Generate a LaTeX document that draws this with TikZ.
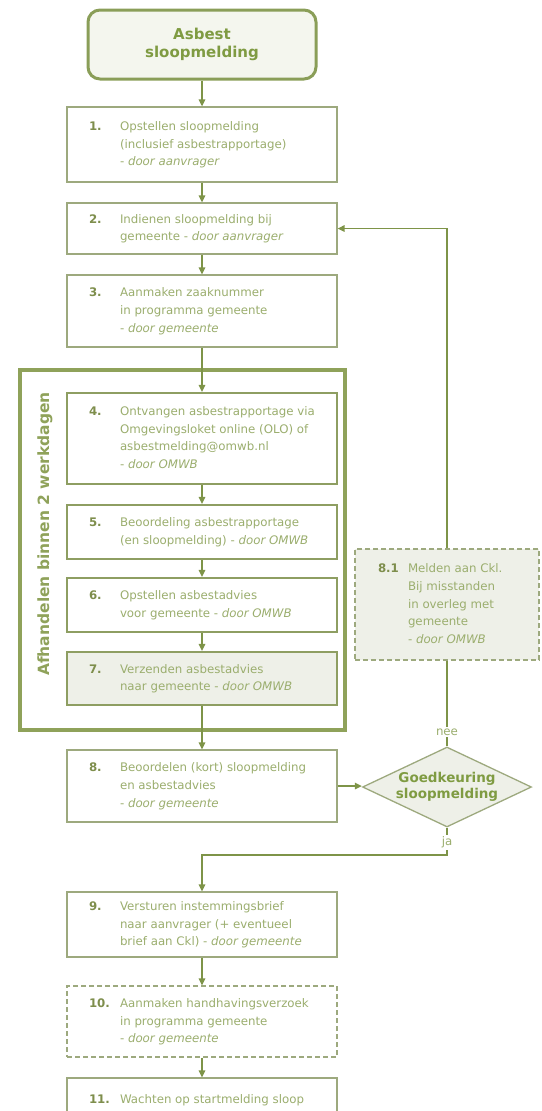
\documentclass[tikz,border=0pt]{standalone}
\usepackage{fontspec}
\setmainfont{DejaVu Sans}
\usetikzlibrary{shapes.geometric,arrows.meta}
\definecolor{gline}{HTML}{7E9448}
\definecolor{gborder}{HTML}{9DA97E}
\definecolor{gthick}{HTML}{8E9E62}
\definecolor{ggroup}{HTML}{8FA25A}
\definecolor{gstart}{HTML}{8A9E58}
\definecolor{gstartfill}{HTML}{F4F6EE}
\definecolor{gtext}{HTML}{9BAE6E}
\definecolor{gnum}{HTML}{7E8E4C}
\definecolor{gtitle}{HTML}{7F9B42}
\definecolor{gfill}{HTML}{EEF0E8}
\newcommand{\stepcontent}[4]{\makebox[#1][l]{\begin{tabular}{@{}p{#2}@{}l@{}}\textcolor{gnum}{\textbf{#3}} & #4\end{tabular}}}
\begin{document}
\begin{tikzpicture}[x=1pt,y=-1pt,
  stepbox/.style={draw=gborder, line width=1.3pt, fill=white, minimum width=270pt, inner sep=0pt,
    text=gtext, font=\fontsize{11.8}{17.7}\selectfont},
  thickbox/.style={stepbox, draw=gthick, line width=2.2pt},
  dashbox/.style={stepbox, dash pattern=on 5pt off 3pt},
  arr/.style={draw=gline, line width=1.4pt, -{Triangle[length=7pt,width=6.5pt]}},
  plain/.style={draw=gline, line width=1.4pt},
  lab/.style={fill=white, text=gtext, inner sep=1.5pt, font=\fontsize{11.8}{14}\selectfont}]
\useasboundingbox (0,0) rectangle (541,1111);
\clip (0,0) rectangle (541,1111);

% group frame
\node[draw=ggroup, line width=4pt, minimum width=325pt, minimum height=360pt, inner sep=0pt] (grp) at (182.5,550) {};
\node[rotate=90, text=ggroup, font=\fontsize{15.5}{18}\selectfont\bfseries] (glab) at (45,534) {Afhandelen binnen 2 werkdagen};

% start
\node[draw=gstart, fill=gstartfill, line width=3pt, rounded corners=12pt, minimum width=228pt, minimum height=69pt,
  align=center, text=gtitle, font=\fontsize{15}{17.5}\selectfont\bfseries] (start) at (202,44.5) {Asbest\\sloopmelding};

\node[stepbox, minimum height=75pt] (b1) at (202,144.5)
  {\stepcontent{226pt}{31pt}{1.}{Opstellen sloopmelding\\ & (inclusief asbestrapportage)\\ & - \textit{door aanvrager}}};
\node[stepbox, minimum height=51pt] (b2) at (202,228.5)
  {\stepcontent{226pt}{31pt}{2.}{Indienen sloopmelding bij\\ & gemeente - \textit{door aanvrager}}};
\node[stepbox, minimum height=72pt] (b3) at (202,311)
  {\stepcontent{226pt}{31pt}{3.}{Aanmaken zaaknummer\\ & in programma gemeente\\ & - \textit{door gemeente}}};
\node[thickbox, minimum height=91pt] (b4) at (202,438.5)
  {\stepcontent{226pt}{31pt}{4.}{Ontvangen asbestrapportage via\\ & Omgevingsloket online (OLO) of\\ & asbestmelding@omwb.nl\\ & - \textit{door OMWB}}};
\node[thickbox, minimum height=54pt] (b5) at (202,532)
  {\stepcontent{226pt}{31pt}{5.}{Beoordeling asbestrapportage\\ & (en sloopmelding) - \textit{door OMWB}}};
\node[thickbox, minimum height=54pt] (b6) at (202,605)
  {\stepcontent{226pt}{31pt}{6.}{Opstellen asbestadvies\\ & voor gemeente - \textit{door OMWB}}};
\node[thickbox, fill=gfill, minimum height=53pt] (b7) at (202,678.5)
  {\stepcontent{226pt}{31pt}{7.}{Verzenden asbestadvies\\ & naar gemeente - \textit{door OMWB}}};
\node[stepbox, minimum height=72pt] (b8) at (202,786)
  {\stepcontent{226pt}{31pt}{8.}{Beoordelen (kort) sloopmelding\\ & en asbestadvies\\ & - \textit{door gemeente}}};
\node[stepbox, minimum height=65pt] (b9) at (202,924.5)
  {\stepcontent{226pt}{31pt}{9.}{Versturen instemmingsbrief\\ & naar aanvrager (+ eventueel\\ & brief aan Ckl) - \textit{door gemeente}}};
\node[dashbox, minimum height=71pt] (b10) at (202,1021.5)
  {\stepcontent{226pt}{31pt}{10.}{Aanmaken handhavingsverzoek\\ & in programma gemeente\\ & - \textit{door gemeente}}};
\node[stepbox, minimum height=44pt] (b11) at (202,1100)
  {\stepcontent{226pt}{31pt}{11.}{Wachten op startmelding sloop}};

\node[dashbox, fill=gfill, minimum width=184pt, minimum height=111pt] (b81) at (447,604.5)
  {\stepcontent{138pt}{30pt}{8.1}{Melden aan Ckl.\\ & Bij misstanden\\ & in overleg met\\ & gemeente\\ & - \textit{door OMWB}}};

\node[diamond, draw=gborder, line width=1.3pt, fill=gfill, minimum width=169pt, minimum height=80pt, inner sep=0pt,
  text=gtitle, font=\fontsize{13.5}{16}\selectfont\bfseries] (dec) at (447,787)
  {\makebox[0pt]{\begin{tabular}{@{}c@{}}Goedkeuring\\sloopmelding\end{tabular}}};

% connectors
\draw[arr] (start) -- (b1);
\draw[arr] (b1) -- (b2);
\draw[arr] (b2) -- (b3);
\draw[arr] (b3) -- (b4);
\draw[arr] (b4) -- (b5);
\draw[arr] (b5) -- (b6);
\draw[arr] (b6) -- (b7);
\draw[arr] (b7) -- (b8);
\draw[arr] (b8.east) -- (b8.east -| dec.west);
\draw[arr] (b81.north) |- (b2.east);
\draw[plain] (dec.north) -- node[lab, pos=0.17] {nee} (b81.south);
\coordinate (jaturn) at (447,855);
\draw[arr] (dec.south) -- node[lab, pos=0.55] {ja} (jaturn) -| (b9.north);
\draw[arr] (b9) -- (b10);
\draw[arr] (b10) -- (b11);
\end{tikzpicture}
\end{document}
